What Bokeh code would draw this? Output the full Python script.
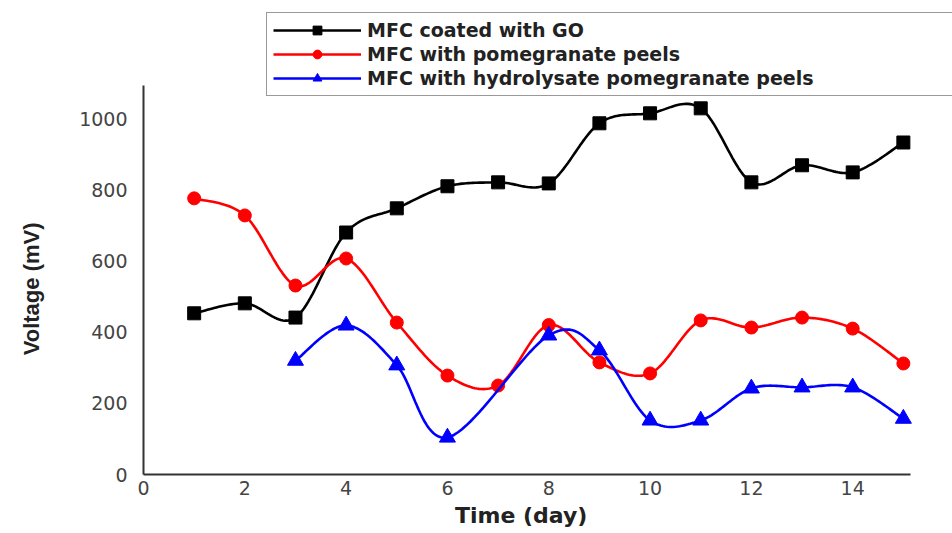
import numpy as np
from bokeh.plotting import figure
from bokeh.models import Range1d, Legend, LegendItem, FixedTicker
from bokeh.embed import file_html
from bokeh.resources import INLINE

# ---- data ----
go_days = [1, 2, 3, 4, 5, 6, 7, 8, 9, 10, 11, 12, 13, 14, 15]
go_mv = [453, 481, 441, 680, 748, 810, 821, 818, 987, 1015, 1029, 821, 869, 849, 933]

peel_days = [1, 2, 3, 4, 5, 6, 7, 8, 9, 10, 11, 12, 13, 14, 15]
peel_mv = [776, 728, 531, 607, 427, 278, 250, 420, 315, 284, 433, 413, 441, 410, 312]

hyd_days = [3, 4, 5, 6, 8, 9, 10, 11, 12, 13, 14, 15]
hyd_mv = [320, 419, 307, 104, 391, 349, 152, 152, 242, 245, 245, 157]

x_ticks = [0, 2, 4, 6, 8, 10, 12, 14]
y_ticks = [0, 200, 400, 600, 800, 1000]

labels = ["MFC coated with GO", "MFC with pomegranate peels",
          "MFC with hydrolysate pomegranate peels"]
x_title = "Time (day)"
y_title = "Voltage (mV)"

X_AXIS_END = 15.14
Y_AXIS_END = 1093
NBSP = "\u00a0"


def smooth(xs, ys, n=24):
    """Catmull-Rom curve through the data points (for drawing the smoothed line)."""
    xs = np.asarray(xs, float)
    ys = np.asarray(ys, float)
    px = np.concatenate([[xs[0]], xs, [xs[-1]]])
    py = np.concatenate([[ys[0]], ys, [ys[-1]]])
    outx, outy = [], []
    t = np.linspace(0, 1, n, endpoint=False)
    for i in range(1, len(px) - 2):
        for arr, out in ((px, outx), (py, outy)):
            p0, p1, p2, p3 = arr[i - 1], arr[i], arr[i + 1], arr[i + 2]
            out.extend(0.5 * ((2 * p1) + (-p0 + p2) * t
                              + (2 * p0 - 5 * p1 + 4 * p2 - p3) * t ** 2
                              + (-p0 + 3 * p1 - 3 * p2 + p3) * t ** 3))
    outx.append(xs[-1])
    outy.append(ys[-1])
    return outx, outy


# frame is enlarged to hold the legend; axes are bounded to the visible plot area
p = figure(width=952, height=533, output_backend="svg", toolbar_location=None,
           x_range=Range1d(0, 15.97), y_range=Range1d(0, 1318),
           min_border_left=143, min_border_right=0, min_border_top=5,
           min_border_bottom=59)
p.outline_line_color = None
p.xgrid.visible = False
p.ygrid.visible = False
p.background_fill_color = "white"
p.border_fill_color = "white"

items = []
specs = [
    (go_days, go_mv, "black", "square", 13),
    (peel_days, peel_mv, "#FF0000", "circle", 13),
    (hyd_days, hyd_mv, "#0000FF", "triangle", 16),
]
for (xs, ys, col, mk, sz), lab in zip(specs, labels):
    sx, sy = smooth(xs, ys)
    ln = p.line(sx, sy, line_color=col, line_width=2.6)
    sc = p.scatter(xs, ys, marker=mk, size=sz, fill_color=col, line_color=col)
    items.append(LegendItem(label=lab, renderers=[ln, sc]))

legend = Legend(items=items, location=(123, 378))
legend.label_text_font = "DejaVu Sans"
legend.label_text_font_style = "bold"
legend.label_text_font_size = "19px"
legend.label_text_color = "#222222"
legend.glyph_width = 88
legend.glyph_height = 22
legend.label_height = 22
legend.spacing = 2
legend.padding = 6
legend.margin = 0
legend.label_standoff = 6
legend.label_width = 583
legend.border_line_color = "#333333"
legend.border_line_width = 1.5
legend.background_fill_alpha = 1.0
p.add_layout(legend, "center")

for ax in (p.xaxis[0], p.yaxis[0]):
    ax.axis_line_color = "#333333"
    ax.axis_line_width = 2
    ax.major_tick_line_color = None
    ax.minor_tick_line_color = None
    ax.major_tick_out = 0
    ax.major_tick_in = 0
    ax.minor_tick_out = 0
    ax.major_label_text_font = "DejaVu Sans"
    ax.major_label_text_font_size = "19px"
    ax.major_label_text_color = "#444444"
    ax.axis_label_text_font_style = "bold"
    ax.axis_label_text_font_size = "22px"
    ax.axis_label_text_color = "#222222"

p.xaxis[0].bounds = (0, X_AXIS_END)
p.yaxis[0].bounds = (0, Y_AXIS_END)
p.xaxis[0].ticker = FixedTicker(ticks=x_ticks)
p.yaxis[0].ticker = FixedTicker(ticks=y_ticks)
# trailing no-break spaces re-centre the titles on the bounded axes
p.xaxis[0].axis_label = x_title + NBSP * 7
p.yaxis[0].axis_label = y_title + NBSP * 16
p.xaxis[0].axis_label_text_font = "DejaVu Sans"
p.yaxis[0].axis_label_text_font = "Liberation Sans"
p.xaxis[0].major_label_standoff = 6
p.xaxis[0].axis_label_standoff = 5
p.yaxis[0].major_label_standoff = 16
p.yaxis[0].axis_label_standoff = 32

open("out.html", "w").write(file_html(p, INLINE))
